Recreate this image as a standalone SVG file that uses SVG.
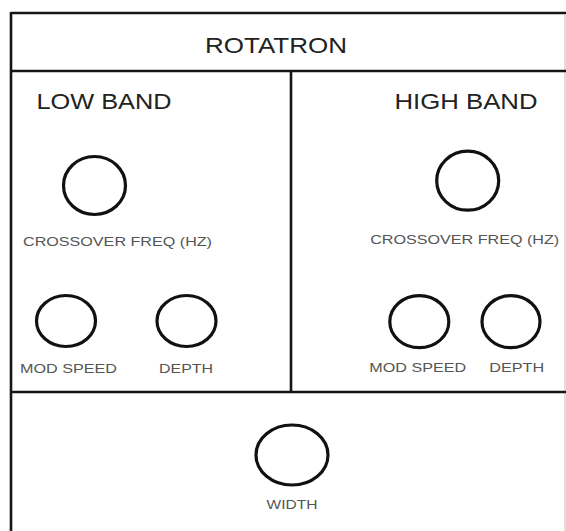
<svg xmlns="http://www.w3.org/2000/svg" width="566" height="531" viewBox="0 0 566 531">
<style>
.frame{stroke:#151515;stroke-width:2.6;fill:none}
.faint{stroke:#d4d4d4;stroke-width:1.5;fill:none}
.knob{fill:none;stroke:#111;stroke-width:3.2}
.title{font-family:"Liberation Sans",Arial,sans-serif;font-size:22px;fill:#222;text-anchor:middle}
.lbl{font-family:"Liberation Sans",Arial,sans-serif;font-size:13px;fill:#555;text-anchor:middle}
</style>
<rect width="566" height="531" fill="#fff"/>
<g id="frame">
<line class="frame" x1="11" y1="13" x2="566" y2="13"/>
<line class="frame" x1="11" y1="12" x2="11" y2="531"/>
<line class="faint" x1="565" y1="14" x2="565" y2="531"/>
<line class="frame" x1="11" y1="71" x2="566" y2="71"/>
<line class="frame" x1="291" y1="71" x2="291" y2="392"/>
<line class="frame" x1="11" y1="392" x2="566" y2="392"/>
</g>
<g id="title"><text class="title" x="276" y="53" textLength="142" lengthAdjust="spacingAndGlyphs">ROTATRON</text></g>
<g id="low-band">
<text class="title" x="104" y="109" textLength="135" lengthAdjust="spacingAndGlyphs">LOW BAND</text>
</g>
<g id="high-band">
<text class="title" x="466" y="109" textLength="143" lengthAdjust="spacingAndGlyphs">HIGH BAND</text>
</g>
<g id="low-crossover">
<ellipse class="knob" cx="94.5" cy="185.5" rx="31" ry="29"/>
<text class="lbl" x="117.5" y="246" textLength="189" lengthAdjust="spacingAndGlyphs">CROSSOVER FREQ (HZ)</text>
</g>
<g id="low-modspeed">
<ellipse class="knob" cx="66" cy="321" rx="29.5" ry="25.5"/>
<text class="lbl" x="68.5" y="373" textLength="97" lengthAdjust="spacingAndGlyphs">MOD SPEED</text>
</g>
<g id="low-depth">
<ellipse class="knob" cx="186.5" cy="321" rx="29.5" ry="25.5"/>
<text class="lbl" x="186" y="373" textLength="54" lengthAdjust="spacingAndGlyphs">DEPTH</text>
</g>
<g id="high-crossover">
<ellipse class="knob" cx="467.7" cy="180.7" rx="31" ry="29.5"/>
<text class="lbl" x="464.7" y="244" textLength="189" lengthAdjust="spacingAndGlyphs">CROSSOVER FREQ (HZ)</text>
</g>
<g id="high-modspeed">
<ellipse class="knob" cx="419.3" cy="321.7" rx="29.5" ry="26"/>
<text class="lbl" x="417.7" y="372" textLength="97" lengthAdjust="spacingAndGlyphs">MOD SPEED</text>
</g>
<g id="high-depth">
<ellipse class="knob" cx="511" cy="321.7" rx="29" ry="26"/>
<text class="lbl" x="516.7" y="372" textLength="55" lengthAdjust="spacingAndGlyphs">DEPTH</text>
</g>
<g id="width">
<ellipse class="knob" cx="292" cy="455" rx="36" ry="30"/>
<text class="lbl" x="292" y="509" textLength="51" lengthAdjust="spacingAndGlyphs">WIDTH</text>
</g>
<g id="connectors"/>
</svg>
